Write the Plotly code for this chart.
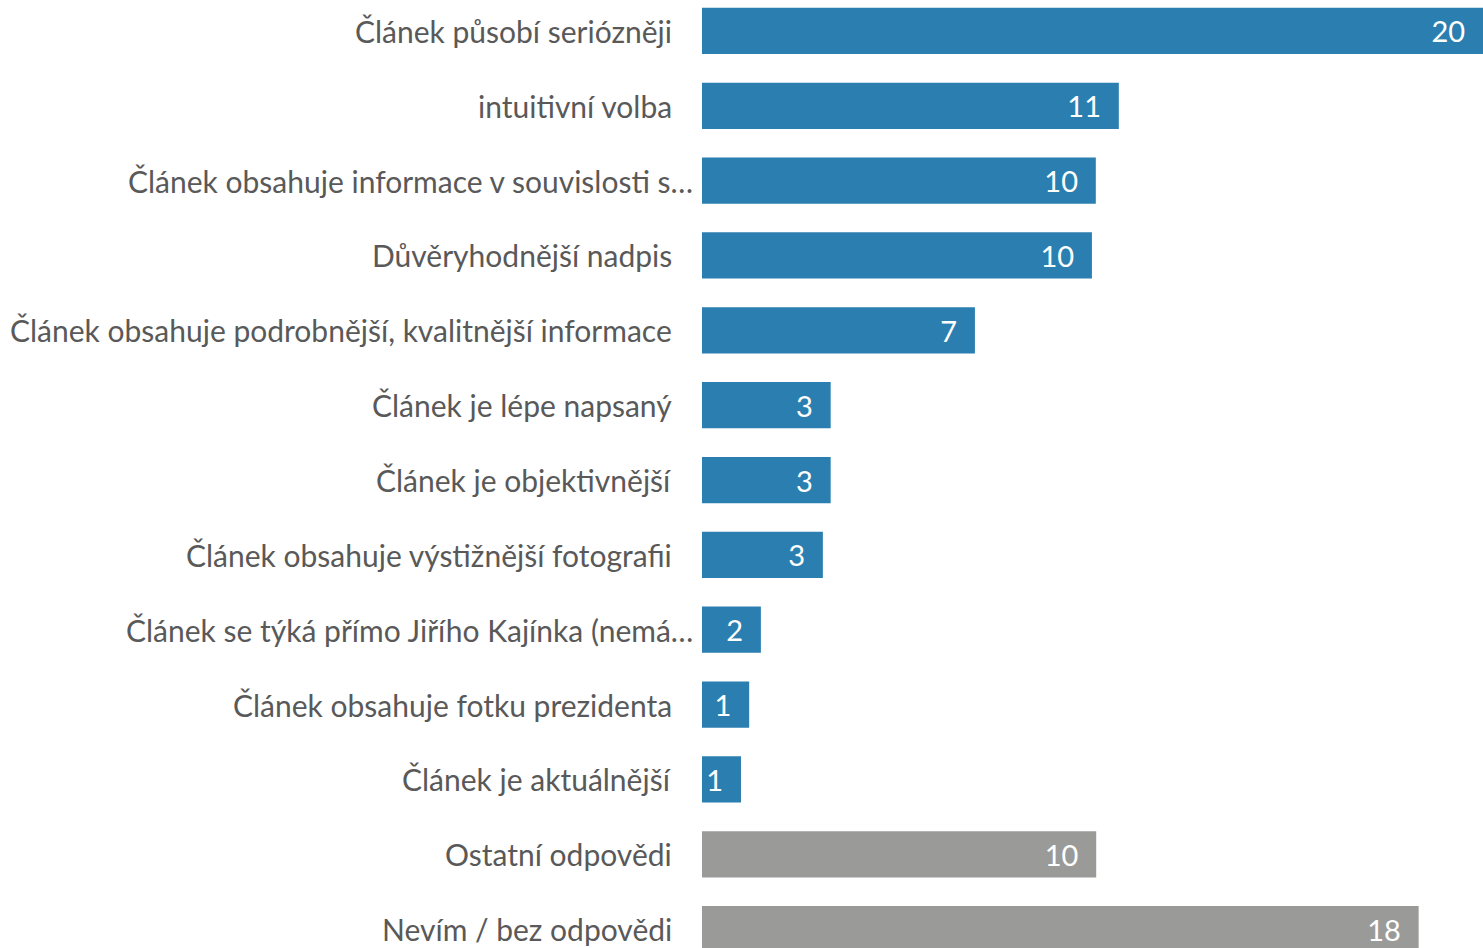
import plotly.graph_objects as go

# Reasons given for choosing the article (top to bottom)
categories = [
    "Článek působí seriózněji",
    "intuitivní volba",
    "Článek obsahuje informace v souvislosti s…",
    "Důvěryhodnější nadpis",
    "Článek obsahuje podrobnější, kvalitnější informace",
    "Článek je lépe napsaný",
    "Článek je objektivnější",
    "Článek obsahuje výstižnější fotografii",
    "Článek se týká přímo Jiřího Kajínka (nemá…",
    "Článek obsahuje fotku prezidenta",
    "Článek je aktuálnější",
    "Ostatní odpovědi",
    "Nevím / bez odpovědi",
]
values = [20.03, 10.69, 10.10, 10.0, 7.0, 3.30, 3.30, 3.10, 1.51, 1.21, 1.0, 10.11, 18.38]
groups = ["reason"] * 11 + ["other"] * 2
truncated = [c.endswith("…") for c in categories]

BLUE = "#2B7FB0"
GRAY = "#9A9B99"
colors = [BLUE if g == "reason" else GRAY for g in groups]

FONT = "Lato, 'Open Sans', sans-serif"

fig = go.Figure(
    go.Bar(
        x=values,
        y=categories,
        orientation="h",
        marker=dict(color=colors, line=dict(width=0)),
        width=0.618,
        text=values,
        texttemplate="%{x:.0f}\u00a0\u00a0",
        textposition="inside",
        insidetextanchor="end",
        textangle=0,
        textfont=dict(family=FONT, size=29, color="white"),
        cliponaxis=False,
        hoverinfo="skip",
    )
)

# Category labels to the left of the bars
for cat, trunc in zip(categories, truncated):
    fig.add_annotation(
        x=0, xref="paper", y=cat, yref="y",
        text=cat, showarrow=False,
        xanchor="right", yanchor="middle",
        xshift=-7 if trunc else -28,
        font=dict(family=FONT, size=30, color="#595959"),
    )

fig.update_layout(
    width=1483, height=948,
    margin=dict(l=702, r=0, t=0, b=0),
    paper_bgcolor="white", plot_bgcolor="white",
    showlegend=False,
    xaxis=dict(range=[0, 20.03], visible=False, fixedrange=True),
    yaxis=dict(
        type="category",
        categoryorder="array", categoryarray=categories,
        range=[12.252, -0.413],
        showticklabels=False, showgrid=False, zeroline=False,
        ticks="", fixedrange=True,
    ),
    uniformtext=dict(mode=False),
)

fig.write_html("out.html")
